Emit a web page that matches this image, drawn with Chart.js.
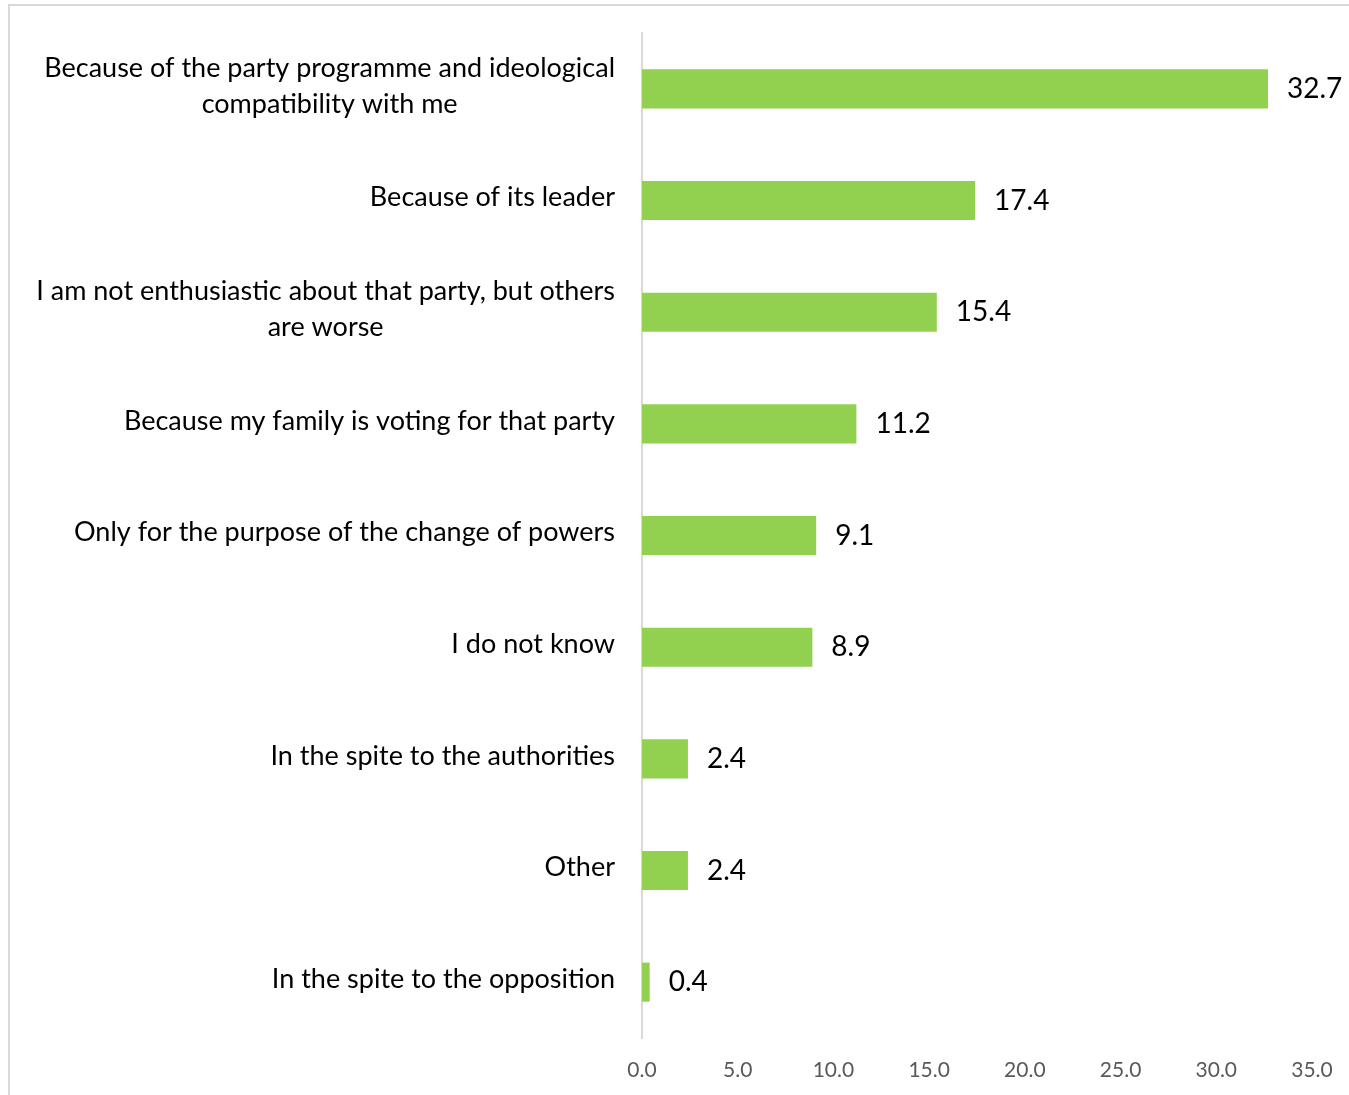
<!DOCTYPE html>
<html>
<head>
<meta charset="utf-8">
<script src="https://cdn.jsdelivr.net/npm/chart.js@4"></script>
<style>
  body { margin: 0; background: #fff; }
  #wrap { position: relative; width: 1349px; height: 1095px; }
  #frame { position: absolute; left: 8px; top: 4px; right: 0; bottom: 0; border-top: 2px solid #d9d9d9; border-left: 2px solid #d9d9d9; }
  canvas { position: absolute; left: 0; top: 0; }
</style>
</head>
<body>
<div id="wrap">
  <div id="frame"></div>
  <canvas id="myChart" width="1349" height="1095"></canvas>
</div>
<script>
const reasons = [
    ['Because of the party programme and ideological', 'compatibility with me'],
    'Because of its leader',
    ['I am not enthusiastic about that party, but others', 'are worse'],
    'Because my family is voting for that party',
    'Only for the purpose of the change of powers',
    'I do not know',
    'In the spite to the authorities',
    'Other',
    'In the spite to the opposition'
];
const shares = [32.7, 17.4, 15.4, 11.2, 9.1, 8.9, 2.4, 2.4, 0.4];
const xMax = 35;
const xStep = 5;

// category names (centred multi-line, right edge near the axis) and the values after each bar
const barText = {
    id: 'barText',
    afterDatasetsDraw(chart) {
        const ctx = chart.ctx;
        const x = chart.scales.x;
        const y = chart.scales.y;
        ctx.save();
        ctx.fillStyle = '#000';
        ctx.textBaseline = 'middle';

        ctx.font = '27px Lato';
        ctx.textAlign = 'center';
        const right = x.getPixelForValue(0) - 27;
        chart.data.labels.forEach((label, i) => {
            const lines = Array.isArray(label) ? label : [label];
            const w = Math.max(...lines.map(l => ctx.measureText(l).width));
            const yc = y.getPixelForValue(i);
            lines.forEach((l, j) => {
                ctx.fillText(l, right - w / 2, yc - 3 + (j - (lines.length - 1) / 2) * 36);
            });
        });

        ctx.font = '28px Lato';
        ctx.textAlign = 'left';
        chart.data.datasets[0].data.forEach((v, i) => {
            ctx.fillText(v.toFixed(1), x.getPixelForValue(v) + 19, y.getPixelForValue(i));
        });
        ctx.restore();
    }
};

let ctx = document.getElementById('myChart').getContext('2d');
let myChart = new Chart(ctx, {
    type: 'bar',
    data: {
        labels: reasons,
        datasets: [{
            data: shares,
            backgroundColor: '#92d050',
            barPercentage: 0.35,
            categoryPercentage: 1
        }]
    },
    options: {
        indexAxis: 'y',
        responsive: false,
        animation: false,
        layout: {
            padding: { left: 642, top: 33, right: 37, bottom: 0 }
        },
        plugins: {
            legend: { display: false },
            tooltip: { enabled: false }
        },
        scales: {
            x: {
                min: 0,
                max: xMax,
                grid: { display: false, drawTicks: false },
                border: { display: false },
                afterFit: scale => {
                    scale.height = 57;
                    scale.paddingLeft = 0;
                    scale.paddingRight = 0;
                },
                ticks: {
                    stepSize: xStep,
                    padding: 20,
                    color: '#595959',
                    font: { family: 'Lato', size: 21 },
                    callback: v => v.toFixed(1)
                }
            },
            y: {
                grid: { display: false, drawTicks: false },
                border: { display: true, color: '#d9d9d9', width: 2 },
                ticks: { display: false }
            }
        }
    },
    plugins: [barText]
});
</script>
</body>
</html>
